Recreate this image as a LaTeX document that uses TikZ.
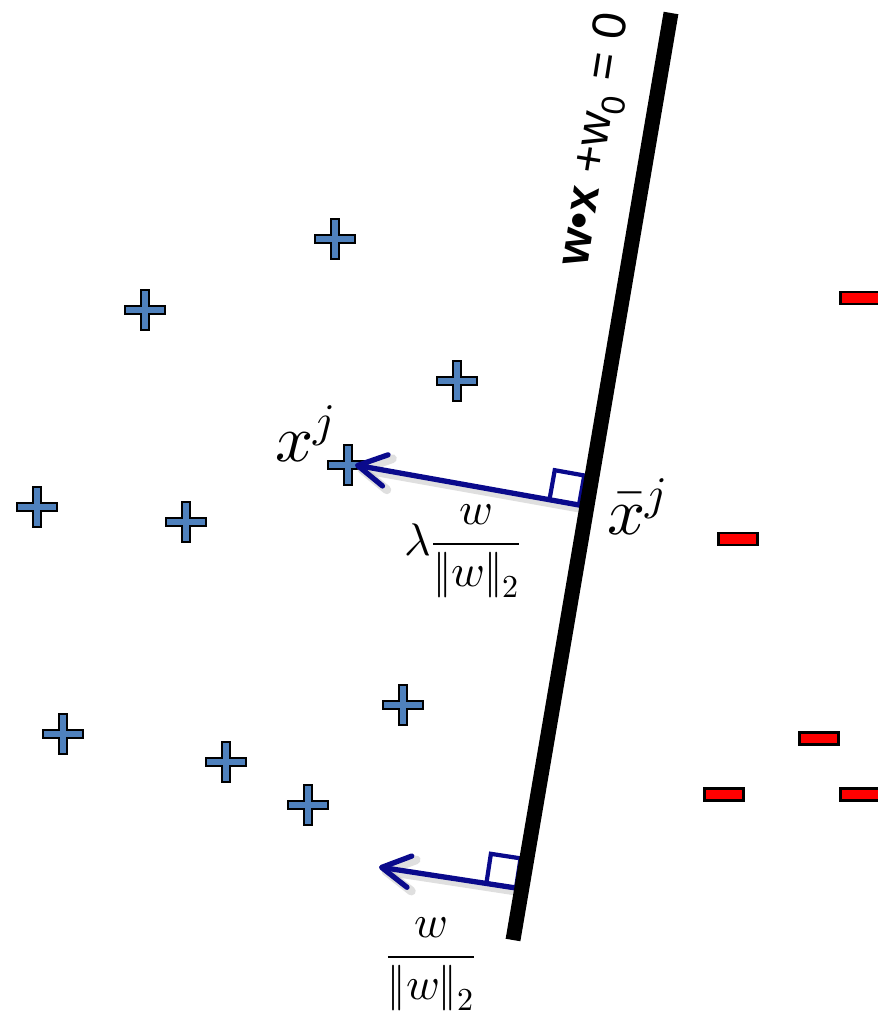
\documentclass[tikz,border=0pt]{standalone}
\usepackage{fontspec}
\usepackage{unicode-math}
\newfontfamily\eqfont{Liberation Sans}
\usetikzlibrary{arrows.meta,calc}
\definecolor{plusblue}{RGB}{79,129,189}
\definecolor{minusred}{RGB}{255,0,0}
\definecolor{normalblue}{RGB}{10,10,140}
\tikzset{
  plusmark/.pic={
    \draw[line width=1.4pt,fill=plusblue] (-4,-20)--(4,-20)--(4,-4)--(20,-4)--(20,4)--(4,4)
      --(4,20)--(-4,20)--(-4,4)--(-20,4)--(-20,-4)--(-4,-4)--cycle;
  },
  minusmark/.pic={
    \draw[line width=1.7pt,fill=minusred] (-19.5,-6) rectangle (19.5,6);
  },
  normalarrow/.style={normalblue,line width=3pt,line cap=round,
    -{Straight Barb[length=16pt,width=18pt,round]}},
  arrowshadow/.style={black!25,opacity=.5,line width=5pt,line cap=round,
    -{Straight Barb[length=16pt,width=18pt,round]},transform canvas={shift={(1.5pt,-2pt)}}},
  rightangle/.style={normalblue,line width=2.4pt},
  bigmath/.style={font=\fontsize{38}{44}\selectfont},
  fracmath/.style={font=\fontsize{26}{30}\selectfont}
}
\begin{document}
\begin{tikzpicture}[x=0.02cm,y=-0.02cm]
  \useasboundingbox (0,0) rectangle (877,1017);
  \coordinate (Ltop) at (671,13);
  \coordinate (Lbot) at (513,940);
  \coordinate (F1) at (579,505);
  \coordinate (T1) at (355,465);
  \coordinate (F2) at (516,888);
  \coordinate (T2) at (379,867);
  % positive and negative samples
  \foreach \px/\py in {335/239,145/310,457/381,348/465,37/507,186/522,403/705,63/734,226/762,308/805}
    \pic at (\px,\py) {plusmark};
  \foreach \mx/\my in {860/298,738/539,819/738,724/794,860/794}
    \pic at (\mx,\my) {minusmark};
  % normals with right angle marks
  \draw[arrowshadow] (F1)--(T1);
  \draw[arrowshadow] (F2)--(T2);
  \draw[normalarrow] (F1)--(T1);
  \draw[normalarrow] (F2)--(T2);
  \coordinate (S1a) at ($(F1)!0.6cm!(T1)$);
  \coordinate (S1b) at ($(F1)!0.6cm!-90:(T1)$);
  \coordinate (S2a) at ($(F2)!0.6cm!(T2)$);
  \coordinate (S2b) at ($(F2)!0.6cm!-90:(T2)$);
  \draw[rightangle] (F1)--(S1a)--($(S1a)+(S1b)-(F1)$)--(S1b)--cycle;
  \draw[rightangle] (F2)--(S2a)--($(S2a)+(S2b)-(F2)$)--(S2b)--cycle;
  % hyperplane
  \draw[line width=8.5pt] (Lbot)--(Ltop);
  \node[rotate=81] (plane) at (597,140) {\eqfont\fontsize{27}{30}\selectfont\textbf{w•x} +w\textsubscript{0} = 0};
  \node[bigmath] (xj) at (305,434) {$x^j$};
  \node[bigmath] (xbarj) at (637,507) {$\bar{x}^j$};
  \node[fracmath] (lamw) at (463,551) {$\lambda\dfrac{w}{\|w\|_2}$};
  \node[fracmath] (unitw) at (431,964) {$\dfrac{w}{\|w\|_2}$};
\end{tikzpicture}
\end{document}
